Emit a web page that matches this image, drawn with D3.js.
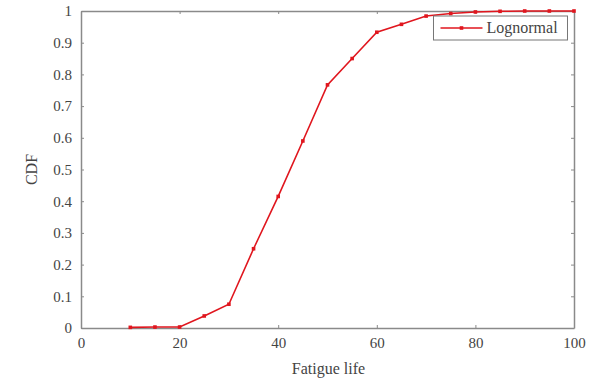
<!DOCTYPE html>
<html>
<head>
<meta charset="utf-8">
<script src="https://cdn.jsdelivr.net/npm/d3@7"></script>
<style>
  body { margin: 0; background: #fff; }
  text { font-family: "Liberation Serif", "DejaVu Serif", serif; fill: #444; }
</style>
</head>
<body>
<div id="chart"></div>
<script>
// data
var fatigueLife = [10, 15, 20, 25, 30, 35, 40, 45, 50, 55, 60, 65, 70, 75, 80, 85, 90, 95, 100];
var cdfValues = [0.002, 0.003, 0.003, 0.038, 0.075, 0.25, 0.415, 0.59, 0.767, 0.85, 0.933, 0.958, 0.984, 0.992, 0.997, 0.999, 1.0, 1.0, 1.0];
var xTicks = [0, 20, 40, 60, 80, 100];
var yTicks = [0, 0.1, 0.2, 0.3, 0.4, 0.5, 0.6, 0.7, 0.8, 0.9, 1];
var seriesName = "Lognormal";

var svgWidth = 589;
var svgHeight = 379;
var margin = { top: 11, right: 15, bottom: 51, left: 81 };
var width = svgWidth - margin.left - margin.right;
var height = svgHeight - margin.top - margin.bottom;

var svg = d3.select("#chart")
  .append("svg")
  .attr("width", svgWidth)
  .attr("height", svgHeight);

var chartGroup = svg.append("g")
  .attr("transform", `translate(${margin.left}, ${margin.top})`);

var x = d3.scaleLinear().domain([0, 100]).range([0, width]);
var y = d3.scaleLinear().domain([0, 1]).range([height, 0]);

var axisColor = "#8a8a8a";

// axes (ticks point inward)
var bottomAxis = d3.axisBottom(x).tickValues(xTicks).tickSizeInner(-3).tickSizeOuter(0).tickPadding(9);
var leftAxis = d3.axisLeft(y).tickValues(yTicks).tickSizeInner(-3).tickSizeOuter(0).tickPadding(9)
  .tickFormat(d => d === 0 || d === 1 ? d : d3.format(".1f")(d));
var topAxis = d3.axisTop(x).tickValues(xTicks).tickSizeInner(-3).tickSizeOuter(0).tickFormat("");
var rightAxis = d3.axisRight(y).tickValues(yTicks).tickSizeInner(-3).tickSizeOuter(0).tickFormat("");

function styleAxis(g) {
  g.select(".domain").attr("stroke", axisColor).attr("stroke-width", 1.5);
  g.selectAll(".tick line").attr("stroke", axisColor);
  g.selectAll(".tick text").attr("fill", "#444").style("font-size", "15px")
    .style("font-family", "'Liberation Serif', serif");
}

chartGroup.append("g").attr("transform", `translate(0, ${height})`).call(bottomAxis).call(styleAxis);
chartGroup.append("g").call(leftAxis).call(styleAxis);
chartGroup.append("g").call(topAxis).call(styleAxis);
chartGroup.append("g").attr("transform", `translate(${width}, 0)`).call(rightAxis).call(styleAxis);

// the line
var lineColor = "#e0161e";
var line = d3.line()
  .x((d, i) => x(fatigueLife[i]))
  .y(d => y(d));

chartGroup.append("path")
  .datum(cdfValues)
  .attr("fill", "none")
  .attr("stroke", lineColor)
  .attr("stroke-width", 1.6)
  .attr("d", line);

chartGroup.selectAll("rect.marker")
  .data(cdfValues)
  .enter()
  .append("rect")
  .attr("class", "marker")
  .attr("x", (d, i) => x(fatigueLife[i]) - 1.8)
  .attr("y", d => y(d) - 1.8)
  .attr("width", 3.6)
  .attr("height", 3.6)
  .attr("fill", lineColor);

// legend
var legend = chartGroup.append("g")
  .attr("transform", `translate(${x(71.5)}, 5)`);
legend.append("rect")
  .attr("width", 134)
  .attr("height", 24)
  .attr("fill", "#fff")
  .attr("stroke", "#777")
  .attr("stroke-width", 1);
legend.append("line")
  .attr("x1", 7).attr("x2", 49)
  .attr("y1", 12).attr("y2", 12)
  .attr("stroke", lineColor)
  .attr("stroke-width", 1.6);
legend.append("rect")
  .attr("x", 26.2).attr("y", 10.2)
  .attr("width", 3.6).attr("height", 3.6)
  .attr("fill", lineColor);
legend.append("text")
  .attr("x", 53)
  .attr("y", 17)
  .style("font-size", "16px")
  .text(seriesName);

// axis labels
chartGroup.append("text")
  .attr("transform", "rotate(-90)")
  .attr("x", -height / 2)
  .attr("y", -44)
  .attr("text-anchor", "middle")
  .style("font-size", "16px")
  .text("CDF");

chartGroup.append("text")
  .attr("x", width / 2 + 1)
  .attr("y", height + 46)
  .attr("text-anchor", "middle")
  .style("font-size", "16px")
  .text("Fatigue life");
</script>
</body>
</html>
